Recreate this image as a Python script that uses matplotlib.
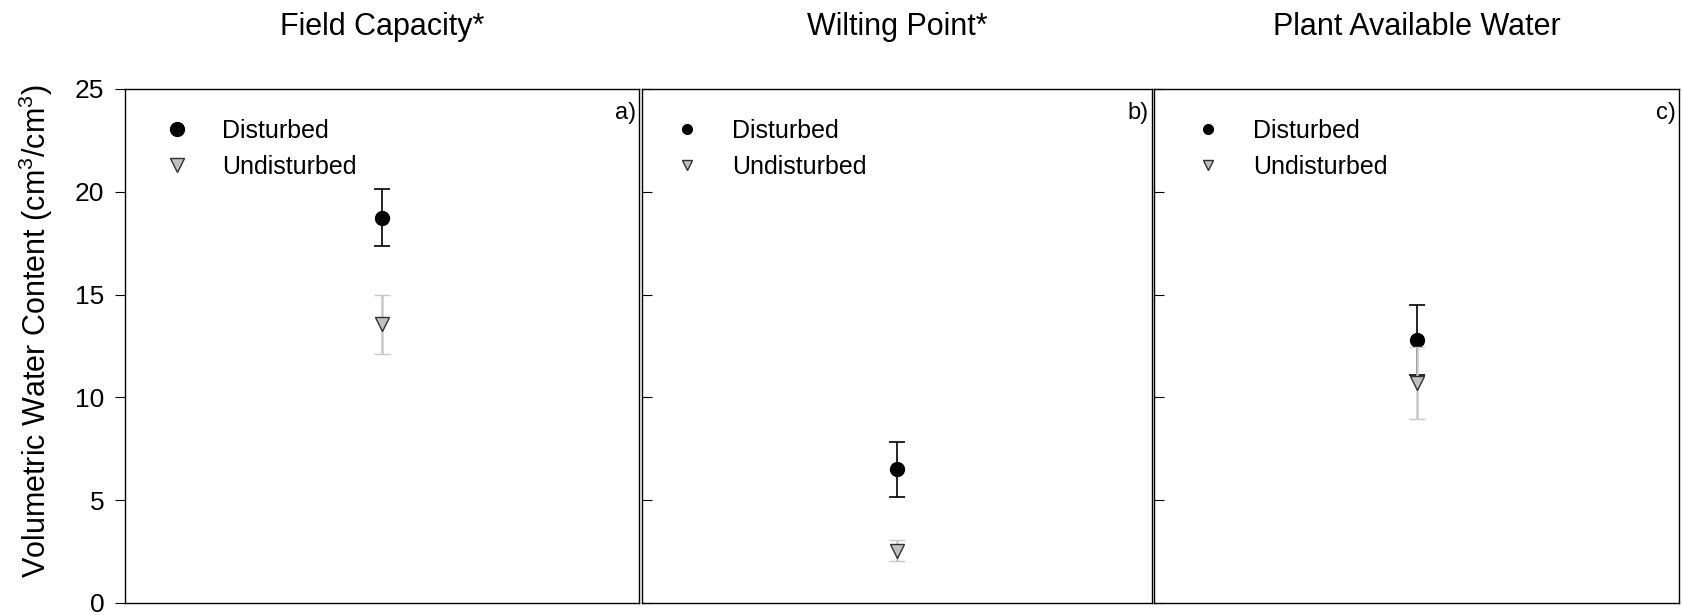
import matplotlib
matplotlib.use("Agg")
import matplotlib.pyplot as plt
from matplotlib.lines import Line2D

plt.rcParams['font.family'] = ['Liberation Sans', 'DejaVu Sans']
plt.rcParams['mathtext.fontset'] = 'custom'
plt.rcParams['mathtext.rm'] = 'Liberation Sans'

titles = ["Field Capacity*", "Wilting Point*", "Plant Available Water"]
panel_tags = ["a)", "b)", "c)"]
groups = ["Disturbed", "Undisturbed"]

disturbed_mean = [18.75, 6.5, 12.78]
disturbed_err = [1.4, 1.33, 1.7]
undisturbed_mean = [13.55, 2.55, 10.7]
undisturbed_err = [1.42, 0.52, 1.75]

yticks = [0, 5, 10, 15, 20, 25]

W, H = 1682, 615
fig = plt.figure(figsize=(W / 100, H / 100), dpi=100)

# panel boxes in pixels: left, right
boxes = [(125, 639), (642, 1152), (1154, 1679)]
top_px, bot_px = 89, 603
legend_x = [0.057, 0.045, 0.06]

for i, (x0, x1) in enumerate(boxes):
    ax = fig.add_axes([x0 / W, (H - bot_px) / H, (x1 - x0) / W, (bot_px - top_px) / H])
    ax.set_xlim(0, 1)
    ax.set_ylim(0, 25)
    ax.set_xticks([])
    ax.set_yticks(yticks)
    for s in ax.spines.values():
        s.set_linewidth(1.0)

    ax.errorbar([0.5], [disturbed_mean[i]], yerr=[disturbed_err[i]], fmt='o',
                color='black', ms=10, capsize=5.5, elinewidth=1.2, capthick=1.2,
                zorder=3)
    ax.errorbar([0.5], [undisturbed_mean[i]], yerr=[undisturbed_err[i]], fmt='v',
                mfc='#c0c0c0', mec='#303030', mew=1.0, ecolor='#c8c8c8',
                ms=10, capsize=5.5, elinewidth=1.8, capthick=1.2,
                zorder=4)

    if i == 0:
        ax.tick_params(axis='y', direction='out', length=7, pad=8, labelsize=19)
        ax.set_ylabel("Volumetric Water Content (cm$^3$/cm$^3$)", fontsize=22)
        ax.yaxis.set_label_coords(-0.136, 0.53)
        leg_ms = 10
    else:
        ax.tick_params(axis='y', direction='in', length=7, labelleft=False)
        leg_ms = 7

    handles = [
        Line2D([], [], ls='', marker='o', color='black', ms=leg_ms),
        Line2D([], [], ls='', marker='v', mfc='#c0c0c0', mec='#303030', ms=leg_ms),
    ]
    ax.legend(handles, groups, loc='upper left', bbox_to_anchor=(legend_x[i], 0.961),
              frameon=False, fontsize=18, handlelength=1.0, handletextpad=1.3,
              labelspacing=0.47, borderaxespad=0)

    ax.text(0.994, 0.975, panel_tags[i], transform=ax.transAxes, ha='right', va='top', fontsize=17)
    fig.text((x0 + x1) / 2 / W, 1 - 27 / H, titles[i], ha='center', va='center', fontsize=22)

fig.savefig("out.png", dpi=100)
